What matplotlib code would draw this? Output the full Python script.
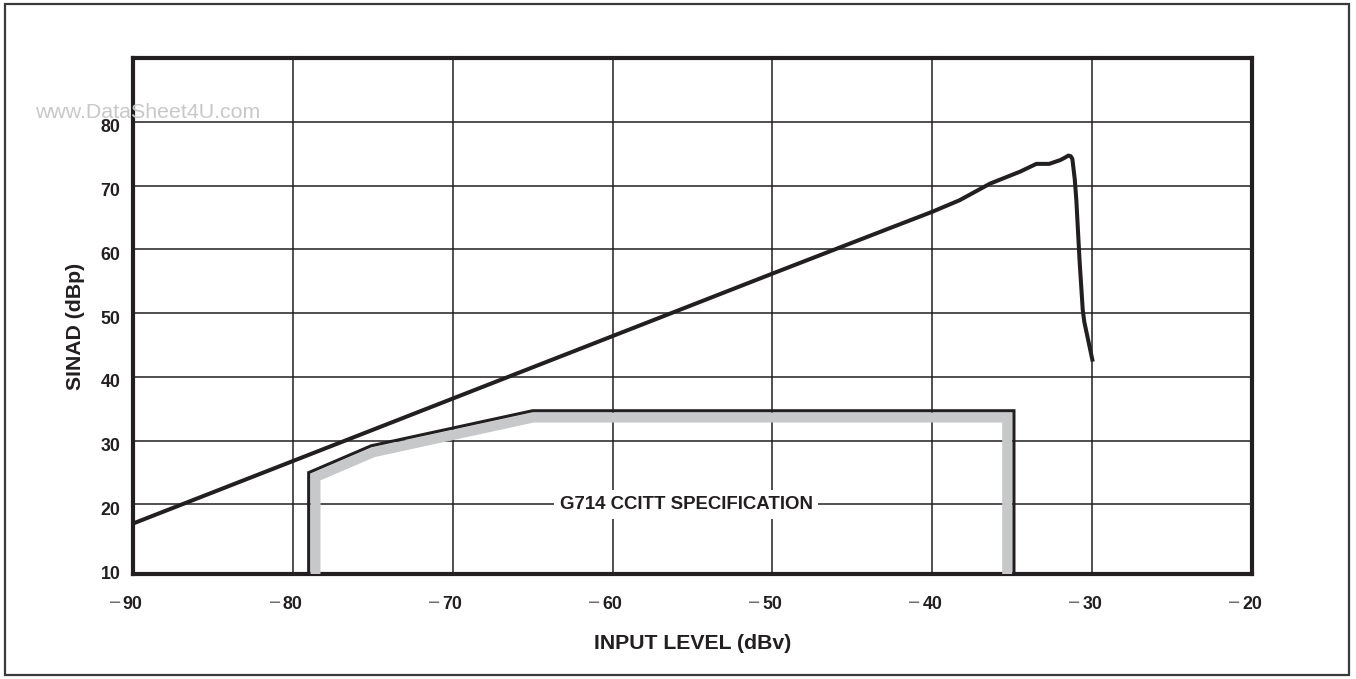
import numpy as np
import matplotlib
matplotlib.use('Agg')
import matplotlib.pyplot as plt
import matplotlib.transforms as mtransforms
from matplotlib.patches import Rectangle

plt.rcParams['font.family'] = ['Liberation Sans', 'DejaVu Sans']

# Measured SINAD vs input level
input_level = [-90, -80, -70, -60, -50, -43, -40, -38.3, -36.4, -34.5, -33.5,
               -32.7, -32.0, -31.7, -31.5, -31.35, -31.25, -31.1, -31.0,
               -30.8, -30.6, -30.5, -30.0]
sinad = [17, 26.8, 36.6, 46.4, 56.2, 63.0, 65.9, 67.7, 70.3, 72.2, 73.4,
         73.4, 74.0, 74.4, 74.7, 74.6, 74.2, 71.0, 67.7,
         58.3, 50.5, 48.6, 42.7]

# G.714 CCITT specification limit
spec_level = [-79.0, -79.0, -75.1, -65.0, -34.9, -34.9]
spec_sinad = [9.1, 25.0, 29.2, 34.7, 34.7, 9.1]

x_ticks = [-90, -80, -70, -60, -50, -40, -30, -20]
y_ticks = [10, 20, 30, 40, 50, 60, 70, 80]

INK = '#231f20'
XPAD = 16

fig = plt.figure(figsize=(13.56, 6.79), dpi=100)
ax = fig.add_axes([0.0979, 0.1546, 0.8256, 0.76])
ax.set_xlim(-90, -20)
ax.set_ylim(9.1, 90)

ax.set_xticks(x_ticks)
ax.set_yticks(y_ticks)
# digits sit centred on the tick, the minus sign hangs off to the left
ax.set_xticklabels([str(abs(v)) for v in x_ticks])
ax.set_yticklabels([str(v) for v in y_ticks])
ax.tick_params(axis='x', length=0, pad=XPAD, labelsize=12.8)
ax.tick_params(axis='y', length=0, pad=9, labelsize=12.8)
for lbl in ax.get_xticklabels() + ax.get_yticklabels():
    lbl.set_fontweight('bold')
    lbl.set_color(INK)
shift_down = mtransforms.ScaledTranslation(0, -4 / 100, fig.dpi_scale_trans)
for lbl in ax.get_yticklabels():
    lbl.set_transform(lbl.get_transform() + shift_down)

for v in x_ticks:
    ax.annotate('\u2212', xy=(v, 0), xycoords=('data', 'axes fraction'),
                xytext=(-13, -XPAD + 1.3), textcoords='offset points',
                ha='center', va='top', fontsize=15, color='#6d6e70')

ax.set_axisbelow(True)
ax.grid(True, color=INK, linewidth=1.1)
ax.yaxis.get_gridlines()[0].set_visible(False)
for sp in ax.spines.values():
    sp.set_linewidth(3.0)
    sp.set_color(INK)

ax.set_xlabel('INPUT LEVEL (dBv)', fontsize=15.3, fontweight='bold',
              color=INK, labelpad=15)
ax.set_ylabel('SINAD (dBp)', fontsize=15.3, fontweight='bold', color=INK)
ax.yaxis.set_label_coords(-0.043, 0.48)


def inset_path(xs, ys, dist_px):
    # offset a polyline to its right-hand side (inside of the spec box) in pixels
    pts = ax.transData.transform(np.column_stack([xs, ys]))
    segs = np.diff(pts, axis=0)
    normals = np.column_stack([segs[:, 1], -segs[:, 0]])
    normals /= np.linalg.norm(normals, axis=1)[:, None]
    out = []
    for i in range(len(pts)):
        if i == 0:
            n = normals[0]
            d = dist_px
        elif i == len(pts) - 1:
            n = normals[-1]
            d = dist_px
        else:
            n = normals[i - 1] + normals[i]
            n /= np.linalg.norm(n)
            d = dist_px / np.dot(n, normals[i])
        out.append(pts[i] + n * d)
    return ax.transData.inverted().transform(np.array(out))


gray = inset_path(spec_level, spec_sinad, 6.8)
ax.plot(gray[:, 0], gray[:, 1], color='#c7c8ca', linewidth=7.2,
        solid_joinstyle='miter', solid_capstyle='butt', zorder=3)
ax.plot(spec_level, spec_sinad, color=INK, linewidth=2.2,
        solid_joinstyle='miter', zorder=4)

ax.plot(input_level, sinad, color=INK, linewidth=2.9,
        solid_joinstyle='round', zorder=5)

ax.text(-55.4, 20, 'G714 CCITT SPECIFICATION', fontsize=13.4, fontweight='bold',
        color=INK, ha='center', va='center', zorder=6,
        bbox=dict(facecolor='white', edgecolor='none', pad=4))

fig.text(35 / 1356, 1 - 113 / 679, 'www.DataSheet4U.com', fontsize=15.4,
         color='#c8c8c8', ha='left', va='center')

# outer frame
fig.patches.append(Rectangle((5 / 1356, 4 / 679), 1344 / 1356, 671 / 679,
                             transform=fig.transFigure, fill=False,
                             edgecolor='#3a3a3a', linewidth=1.6))

fig.savefig('out.png', dpi=100, facecolor='white')
